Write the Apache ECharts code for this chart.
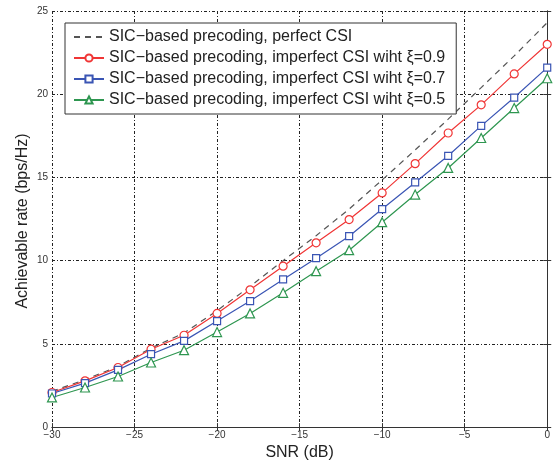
<!DOCTYPE html>
<html><head><meta charset="utf-8">
<script src="https://cdn.jsdelivr.net/npm/echarts@6/dist/echarts.min.js"></script>
<style>html,body{margin:0;padding:0;background:#fff}#c{width:553px;height:466px}</style>
</head><body><div id="c"></div>
<script>
const snr = [-30,-28,-26,-24,-22,-20,-18,-16,-14,-12,-10,-8,-6,-4,-2,0];
const perfect = [2.15,2.85,3.65,4.75,5.65,7.0,8.45,10.0,11.5,13.1,14.85,16.65,18.5,20.4,22.3,24.3];
const xi09 = [2.08,2.78,3.58,4.68,5.52,6.83,8.25,9.67,11.07,12.47,14.07,15.83,17.67,19.36,21.22,23.0];
const xi07 = [2.02,2.64,3.44,4.38,5.18,6.37,7.57,8.87,10.15,11.47,13.1,14.7,16.3,18.1,19.8,21.6];
const xi05 = [1.78,2.38,3.04,3.88,4.62,5.71,6.83,8.07,9.37,10.63,12.31,13.97,15.57,17.37,19.17,20.96];
const names = ['SIC\u2212based precoding, perfect CSI',
  'SIC\u2212based precoding, imperfect CSI wiht \u03BE=0.9',
  'SIC\u2212based precoding, imperfect CSI wiht \u03BE=0.7',
  'SIC\u2212based precoding, imperfect CSI wiht \u03BE=0.5'];
const yTitle = 'Achievable rate (bps/Hz)';
const xTitle = 'SNR (dB)';
const pair = ys => snr.map((x,i)=>[x,ys[i]]);
const FONT = 'Liberation Sans, Arial, Helvetica, sans-serif';
const grid = {left:52,right:4,top:11,bottom:38,show:false};
const splitLine = {show:true,lineStyle:{color:'#222',width:1,type:[3,2,1,2]}};
const axLine = {show:true,lineStyle:{color:'#333',width:1}};
const tick = {show:true,inside:true,length:4,lineStyle:{color:'#333'}};
const fmt = v => String(v).replace('-','\u2212');
const chart = echarts.init(document.getElementById('c'),null,{renderer:'canvas'});
chart.setOption({
  animation:false,
  backgroundColor:'#fff',
  grid,
  graphic:[{type:'text',x:23,y:221,rotation:Math.PI/2,
    style:{text:yTitle,font:'16px '+FONT,fill:'#222',align:'center',verticalAlign:'middle'}}],
  legend:{
    orient:'vertical',left:65,top:23,
    backgroundColor:'#fff',borderColor:'#333',borderWidth:1,
    padding:[6,11,6,8],itemGap:5,itemWidth:30,itemHeight:9,
    textStyle:{fontFamily:FONT,fontSize:16,color:'#222'},
    data:[
      {name:names[0],itemStyle:{color:'rgba(0,0,0,0)',borderColor:'rgba(0,0,0,0)',borderWidth:0}},
      names[1],names[2],names[3]
    ]
  },
  xAxis:[
    {type:'value',min:-30,max:0,interval:5,position:'bottom',
     axisLine:axLine,axisTick:tick,splitLine,
     axisLabel:{formatter:fmt,color:'#333',fontSize:10,fontFamily:FONT,margin:3},
     name:xTitle,nameLocation:'middle',nameGap:16,
     nameTextStyle:{fontFamily:FONT,fontSize:16,color:'#222'}},
    {type:'value',min:-30,max:0,interval:5,position:'top',
     axisLine:axLine,axisTick:tick,axisLabel:{show:false},splitLine:{show:false}}
  ],
  yAxis:[
    {type:'value',min:0,max:25,interval:5,position:'left',
     axisLine:axLine,axisTick:tick,splitLine,
     axisLabel:{color:'#333',fontSize:10,fontFamily:FONT,margin:4}},
    {type:'value',min:0,max:25,interval:5,position:'right',
     axisLine:axLine,axisTick:tick,axisLabel:{show:false},splitLine:{show:false}}
  ],
  series:[
    {name:names[0],type:'line',data:pair(perfect),symbol:'none',
     lineStyle:{color:'#555',width:1.2,type:[6,5]},itemStyle:{color:'#555'}},
    {name:names[1],type:'line',data:pair(xi09),symbol:'circle',symbolSize:8,showAllSymbol:true,
     lineStyle:{color:'#f03535',width:1.2},itemStyle:{color:'#fff',borderColor:'#f03535',borderWidth:1.2}},
    {name:names[2],type:'line',data:pair(xi07),symbol:'rect',symbolSize:7,showAllSymbol:true,
     lineStyle:{color:'#3a55b4',width:1.2},itemStyle:{color:'#fff',borderColor:'#3a55b4',borderWidth:1.2}},
    {name:names[3],type:'line',data:pair(xi05),symbol:'triangle',symbolSize:9,showAllSymbol:true,
     lineStyle:{color:'#2e9650',width:1.2},itemStyle:{color:'#fff',borderColor:'#2e9650',borderWidth:1.2}}
  ]
});
</script></body></html>
